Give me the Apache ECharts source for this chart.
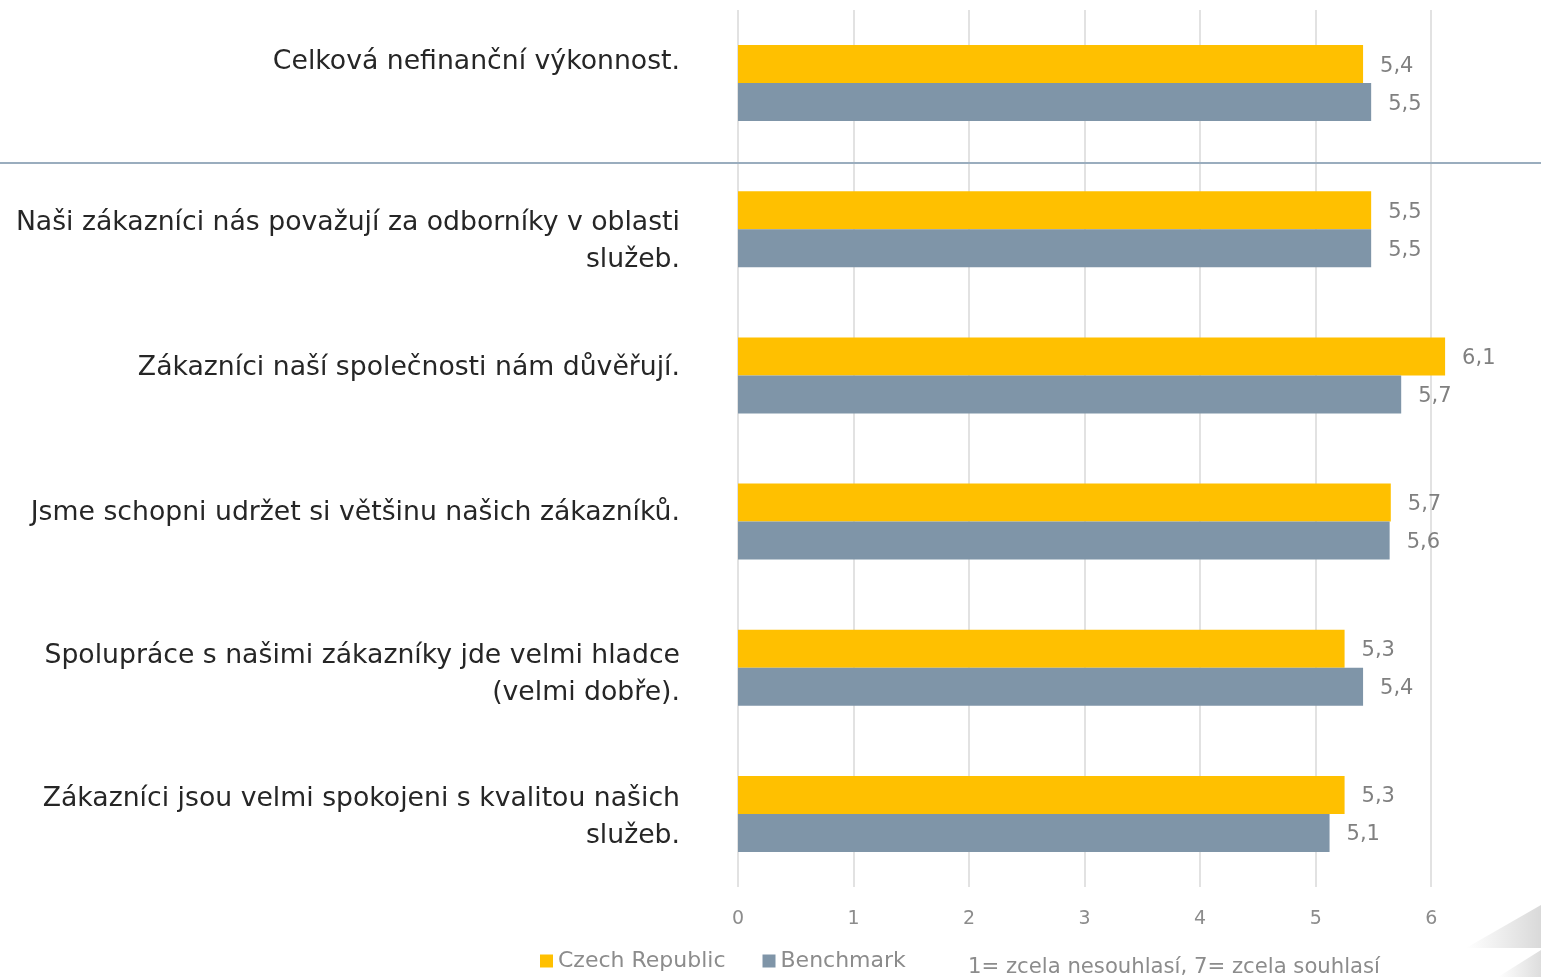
<!DOCTYPE html>
<html>
<head>
<meta charset="utf-8">
<script src="https://cdn.jsdelivr.net/npm/echarts@6/dist/echarts.min.js"></script>
<style>html,body{margin:0;padding:0;background:#fff;}#c{width:1541px;height:977px;}</style>
</head>
<body>
<div id="c"></div>
<script>
const categories = [
  'Celková nefinanční výkonnost.',
  'Naši zákazníci nás považují za odborníky v oblasti\nslužeb.',
  'Zákazníci naší společnosti nám důvěřují.',
  'Jsme schopni udržet si většinu našich zákazníků.',
  'Spolupráce s našimi zákazníky jde velmi hladce\n(velmi dobře).',
  'Zákazníci jsou velmi spokojeni s kvalitou našich\nslužeb.'
];
const czechRepublic = [5.41, 5.48, 6.12, 5.65, 5.25, 5.25];
const benchmark = [5.48, 5.48, 5.74, 5.64, 5.41, 5.12];
const xMin = 0, xMax = 6.95, xStep = 1;   // axis continues past the right edge of the picture
const seriesNames = ['Czech Republic', 'Benchmark'];
const note = '1= zcela nesouhlasí, 7= zcela souhlasí';

// per-label vertical offsets in px (positive = down) to mimic text box placement
const labelShift = [-21, 12, -7, -9, 7, 4];

const chart = echarts.init(document.getElementById('c'));
const fmt = p => p.value.toFixed(1).replace('.', ',');
const FONT = 'DejaVu Sans';

const rich = { t: { fontSize: 26.7, lineHeight: 37, color: '#262626', fontFamily: FONT } };
labelShift.forEach((s, i) => {
  rich['sp' + i] = { fontSize: 1, lineHeight: Math.max(1, Math.abs(2 * s)) };
});

const valueLabel = {
  show: true, position: 'right', distance: 17, offset: [0, 2],
  color: '#808080', fontSize: 21, formatter: fmt, fontFamily: FONT
};

chart.setOption({
  animation: false,
  textStyle: { fontFamily: FONT },
  grid: { left: 738, right: 0, top: 10, bottom: 90, containLabel: false },
  legend: {
    data: seriesNames,
    left: 540, top: 950, padding: 0,
    itemWidth: 13, itemHeight: 13, itemGap: 37,
    icon: 'rect',
    textStyle: { color: '#8c8c8c', fontSize: 22, fontFamily: FONT, padding: [0, 0, 0, 0] }
  },
  xAxis: {
    type: 'value', min: xMin, max: xMax, interval: xStep,
    axisLine: { show: false },
    axisTick: { show: false },
    splitLine: { show: true, showMaxLine: false, lineStyle: { color: '#d9d9d9', width: 1.5 } },
    axisLabel: { color: '#8c8c8c', fontSize: 19, margin: 23, fontFamily: FONT, showMaxLabel: false }
  },
  yAxis: {
    type: 'category', inverse: true, data: categories,
    axisLine: { show: false }, axisTick: { show: false },
    axisLabel: {
      margin: 58, align: 'right', rich: rich,
      formatter: (v, i) => {
        const s = labelShift[i];
        const body = v.split('\n').map(l => '{t|' + l + '}').join('\n');
        const sp = '{sp' + i + '| }';
        return s < 0 ? body + '\n' + sp : sp + '\n' + body;
      }
    }
  },
  series: [
    {
      name: seriesNames[0], type: 'bar', data: czechRepublic,
      barWidth: 38, barGap: '0%',
      itemStyle: { color: '#FFC000' },
      label: valueLabel
    },
    {
      name: seriesNames[1], type: 'bar', data: benchmark,
      barWidth: 38, barGap: '0%',
      itemStyle: { color: '#7F95A8' },
      label: valueLabel
    }
  ],
  graphic: [
    { type: 'line', shape: { x1: 0, y1: 163, x2: 1541, y2: 163 }, style: { stroke: '#9AADBE', lineWidth: 2 }, z: 10 },
    { type: 'text', left: 968, top: 957, style: { text: note, fill: '#8c8c8c', fontSize: 21.2, fontFamily: FONT } },
    { type: 'polygon', shape: { points: [[1541, 905], [1541, 948], [1466, 948]] },
      style: { fill: new echarts.graphic.LinearGradient(0, 0, 1, 0, [{ offset: 0, color: '#ffffff' }, { offset: 1, color: '#d9d9d9' }]) } },
    { type: 'polygon', shape: { points: [[1541, 950], [1541, 977], [1498, 977]] },
      style: { fill: new echarts.graphic.LinearGradient(0, 0, 1, 0, [{ offset: 0, color: '#ffffff' }, { offset: 1, color: '#dddddd' }]) } }
  ]
});
</script>
</body>
</html>
